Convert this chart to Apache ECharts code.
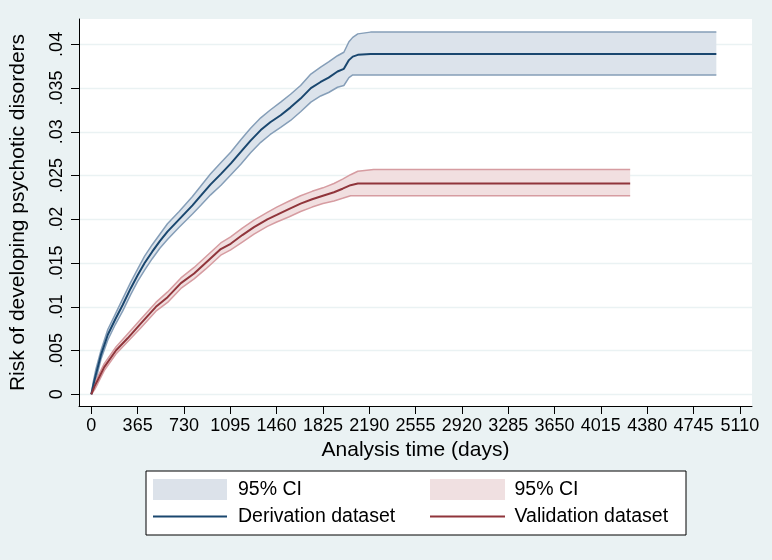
<!DOCTYPE html>
<html>
<head>
<meta charset="utf-8">
<script src="https://cdn.jsdelivr.net/npm/echarts@6/dist/echarts.min.js"></script>
<style>
  html, body { margin: 0; padding: 0; background: #eaf2f3; }
  #chart { width: 772px; height: 560px; }
</style>
</head>
<body>
<div id="chart"></div>
<script>
// tick positions / labels
var xTicks = [0, 365, 730, 1095, 1460, 1825, 2190, 2555, 2920, 3285, 3650, 4015, 4380, 4745, 5110];
var yTicks = [0, 0.005, 0.01, 0.015, 0.02, 0.025, 0.03, 0.035, 0.04];
var yTickLabels = ['0', '.005', '.01', '.015', '.02', '.025', '.03', '.035', '.04'];

// Derivation dataset (days, lower CI, estimate, upper CI)
var derivDays = [0, 15, 35, 76, 130, 190, 247, 310, 365, 420, 480, 540, 600, 692, 797, 863, 940, 1022, 1100, 1178, 1255, 1335, 1410, 1492, 1570, 1649, 1730, 1807, 1870, 1940, 1990, 2030, 2060, 2100, 2200, 4925];
var derivLow  = [0, 0.0006, 0.0016, 0.0040, 0.0062, 0.0080, 0.0095, 0.0114, 0.0129, 0.0142, 0.0155, 0.0167, 0.0177, 0.0191, 0.0206, 0.0216, 0.0228, 0.0239, 0.0251, 0.0263, 0.0276, 0.0288, 0.0297, 0.0305, 0.0313, 0.0323, 0.0334, 0.0341, 0.0345, 0.0351, 0.0353, 0.0362, 0.0365, 0.0365, 0.0365, 0.0365];
var derivEst  = [0, 0.0010, 0.0022, 0.0045, 0.0068, 0.0086, 0.0102, 0.0121, 0.0136, 0.0150, 0.0163, 0.0175, 0.0186, 0.0200, 0.0216, 0.0227, 0.0240, 0.0252, 0.0264, 0.0277, 0.0290, 0.0302, 0.0311, 0.0319, 0.0328, 0.0338, 0.0350, 0.0357, 0.0362, 0.0369, 0.0372, 0.0382, 0.0386, 0.0388, 0.0389, 0.0389];
var derivHigh = [0, 0.0014, 0.0028, 0.0050, 0.0074, 0.0092, 0.0109, 0.0128, 0.0143, 0.0158, 0.0171, 0.0183, 0.0195, 0.0209, 0.0226, 0.0238, 0.0252, 0.0265, 0.0277, 0.0291, 0.0304, 0.0316, 0.0325, 0.0334, 0.0343, 0.0353, 0.0366, 0.0374, 0.0380, 0.0387, 0.0391, 0.0403, 0.0408, 0.0412, 0.0414, 0.0414];

// Validation dataset (days, lower CI, estimate, upper CI)
var validDays = [0, 25, 50, 102, 194, 286, 391, 509, 601, 706, 810, 900, 1020, 1098, 1190, 1282, 1387, 1461, 1560, 1649, 1740, 1825, 1912, 1980, 2043, 2100, 2224, 4246];
var validLow  = [0, 0.0005, 0.0012, 0.0027, 0.0046, 0.0060, 0.0076, 0.0095, 0.0105, 0.0121, 0.0132, 0.0143, 0.0159, 0.0165, 0.0174, 0.0183, 0.0192, 0.0197, 0.0203, 0.0209, 0.0214, 0.0218, 0.0221, 0.0224, 0.0227, 0.0227, 0.0227, 0.0227];
var validEst  = [0, 0.0009, 0.0016, 0.0031, 0.0050, 0.0064, 0.0081, 0.0100, 0.0111, 0.0127, 0.0138, 0.0150, 0.0166, 0.0172, 0.0182, 0.0191, 0.0200, 0.0205, 0.0212, 0.0218, 0.0223, 0.0227, 0.0231, 0.0235, 0.0239, 0.0241, 0.0241, 0.0241];
var validHigh = [0, 0.0013, 0.0020, 0.0035, 0.0054, 0.0069, 0.0086, 0.0105, 0.0117, 0.0133, 0.0145, 0.0157, 0.0173, 0.0180, 0.0190, 0.0199, 0.0208, 0.0214, 0.0221, 0.0227, 0.0232, 0.0236, 0.0241, 0.0246, 0.0251, 0.0255, 0.0257, 0.0257];

var FONT = 'Liberation Sans, Arial, Helvetica, sans-serif';
var NAVY = '#1a476f', MAROON = '#90353b';

function pairs(days, vals) {
  return days.map(function (d, i) { return [d, vals[i]]; });
}

function band(days, low, high, fill) {
  return {
    type: 'custom',
    silent: true,
    clip: true,
    z: 1,
    data: [[days[0], low[0]]],
    renderItem: function (params, api) {
      var pts = [];
      for (var i = 0; i < days.length; i++) pts.push(api.coord([days[i], high[i]]));
      for (var j = days.length - 1; j >= 0; j--) pts.push(api.coord([days[j], low[j]]));
      return { type: 'polygon', shape: { points: pts }, style: { fill: fill } };
    }
  };
}

function line(days, vals, color, width, z) {
  return {
    type: 'line',
    data: pairs(days, vals),
    symbol: 'none',
    silent: true,
    z: z,
    lineStyle: { color: color, width: width }
  };
}

var chart = echarts.init(document.getElementById('chart'));

var option = {
  backgroundColor: '#eaf2f3',
  animation: false,
  grid: {
    left: 78, right: 20, top: 19, bottom: 154,
    show: true, backgroundColor: '#ffffff', borderWidth: 0
  },
  xAxis: {
    type: 'value',
    min: -97,
    max: 5206,
    name: 'Analysis time (days)',
    nameLocation: 'middle',
    nameGap: 33,
    nameTextStyle: { fontSize: 21, color: '#000', fontFamily: FONT },
    axisLine: { show: true, onZero: false, lineStyle: { color: '#000', width: 1 } },
    axisTick: { show: true, length: 8, customValues: xTicks, lineStyle: { color: '#000', width: 1 } },
    axisLabel: {
      customValues: xTicks, interval: 0, margin: 11, fontSize: 18, color: '#000', fontFamily: FONT,
      formatter: function (v) { return String(v); }
    },
    splitLine: { show: false }
  },
  yAxis: {
    type: 'value',
    min: -0.00134,
    max: 0.0429,
    name: 'Risk of developing psychotic disorders',
    nameLocation: 'middle',
    nameGap: 50,
    nameTextStyle: { fontSize: 21, color: '#000', fontFamily: FONT },
    axisLine: { show: true, onZero: false, lineStyle: { color: '#000', width: 1 } },
    axisTick: { show: true, length: 8, customValues: yTicks, lineStyle: { color: '#000', width: 1 } },
    axisLabel: {
      customValues: yTicks, rotate: 90, margin: 13, fontSize: 18, color: '#000', fontFamily: FONT,
      formatter: function (v) {
        for (var i = 0; i < yTicks.length; i++) {
          if (Math.abs(yTicks[i] - v) < 1e-9) return yTickLabels[i];
        }
        return '';
      }
    },
    splitLine: { show: true, lineStyle: { color: '#eaf2f3', width: 1.3 } }
  },
  series: [
    band(derivDays, derivLow, derivHigh, '#dce3eb'),
    band(validDays, validLow, validHigh, '#f1dfe0'),
    line(derivDays, derivLow, '#859eb8', 1.5, 2),
    line(derivDays, derivHigh, '#859eb8', 1.5, 2),
    line(validDays, validLow, '#d69ca1', 1.5, 2),
    line(validDays, validHigh, '#d69ca1', 1.5, 2),
    line(derivDays, derivEst, NAVY, 2, 3),
    line(validDays, validEst, MAROON, 2, 3)
  ],
  graphic: [
    { type: 'rect', shape: { x: 146, y: 471, width: 540, height: 64 },
      style: { fill: '#ffffff', stroke: '#000', lineWidth: 1 } },
    { type: 'rect', shape: { x: 153, y: 479, width: 74, height: 21 }, style: { fill: '#dce2ea' } },
    { type: 'line', shape: { x1: 153, y1: 516.5, x2: 227, y2: 516.5 }, style: { stroke: NAVY, lineWidth: 2 } },
    { type: 'text', x: 238, y: 490, style: { text: '95% CI', fill: '#000', font: '19.5px ' + FONT, verticalAlign: 'middle' } },
    { type: 'text', x: 238, y: 516.5, style: { text: 'Derivation dataset', fill: '#000', font: '19.5px ' + FONT, verticalAlign: 'middle' } },
    { type: 'rect', shape: { x: 430, y: 479, width: 75, height: 21 }, style: { fill: '#f0e0e1' } },
    { type: 'line', shape: { x1: 430, y1: 516.5, x2: 505, y2: 516.5 }, style: { stroke: MAROON, lineWidth: 2 } },
    { type: 'text', x: 514.5, y: 490, style: { text: '95% CI', fill: '#000', font: '19.5px ' + FONT, verticalAlign: 'middle' } },
    { type: 'text', x: 514.5, y: 516.5, style: { text: 'Validation dataset', fill: '#000', font: '19.5px ' + FONT, verticalAlign: 'middle' } }
  ]
};

chart.setOption(option);
</script>
</body>
</html>
